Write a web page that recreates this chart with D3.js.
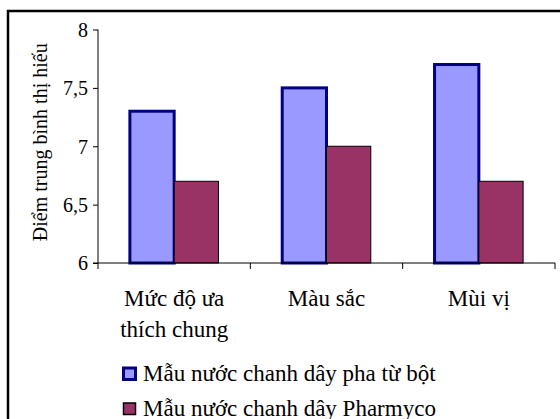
<!DOCTYPE html>
<html>
<head>
<meta charset="utf-8">
<script src="https://cdn.jsdelivr.net/npm/d3@7"></script>
<style>
  html, body { margin: 0; padding: 0; background: #fff; }
  svg { display: block; }
  svg text { font-family: "Liberation Serif", "Times New Roman", serif; }
</style>
</head>
<body>
<svg id="chart" width="560" height="419"></svg>
<script>
// Sensory scores for two passion-fruit drink samples
const categories = [["Mức độ ưa", "thích chung"], ["Màu sắc"], ["Mùi vị"]];
const seriesNames = ["Mẫu nước chanh dây pha từ bột", "Mẫu nước chanh dây Pharmyco"];
const powderValues = [7.3, 7.5, 7.7];
const pharmycoValues = [6.7, 7.0, 6.7];
const yTicks = [6, 6.5, 7, 7.5, 8];

const fills = ["#9999FF", "#993366"];
const strokes = ["#000080", "#000000"];
const strokeWidths = [3, 1];

const FONT = "Liberation Serif";
const axisFont = 20;
const labelFont = 23;

const svg = d3.select("#chart");

// chart-area frame
svg.append("rect")
  .attr("x", 8).attr("y", 11)
  .attr("width", 570).attr("height", 430)
  .attr("fill", "#fff").attr("stroke", "#000").attr("stroke-width", 2.5);

const plot = { left: 98, right: 555, top: 29.5, bottom: 263 };
const catKeys = categories.map(c => c.join(" "));

const x = d3.scaleBand().domain(catKeys).range([plot.left, plot.right]).paddingInner(0).paddingOuter(0);
const xSub = d3.scaleBand().domain([0, 1]).range([0, x.bandwidth()]).paddingInner(0).paddingOuter(0.72);
const y = d3.scaleLinear().domain([6, 8]).range([plot.bottom, plot.top]);

const series = [powderValues, pharmycoValues];

// bars
series.forEach((vals, si) => {
  svg.append("g").selectAll("rect")
    .data(vals)
    .join("rect")
    .attr("x", (d, i) => x(catKeys[i]) + xSub(si))
    .attr("y", d => y(d))
    .attr("width", xSub.bandwidth())
    .attr("height", d => y(6) - y(d))
    .attr("fill", fills[si])
    .attr("stroke", strokes[si])
    .attr("stroke-width", strokeWidths[si]);
});

// y axis
const yAxis = svg.append("g")
  .attr("transform", `translate(${plot.left},0)`)
  .call(d3.axisLeft(y).tickValues(yTicks).tickSize(5).tickPadding(5)
    .tickFormat(d => String(d).replace(".", ",")));
yAxis.attr("font-family", FONT).attr("font-size", axisFont);
yAxis.select(".domain").attr("stroke", "#000").attr("d", `M0,${plot.top}V${plot.bottom}`);
yAxis.selectAll(".tick line").attr("stroke", "#000");
yAxis.selectAll("text").attr("fill", "#000").attr("dy", "0.34em");

// x axis: baseline plus ticks at category boundaries
const xAxis = svg.append("g").attr("transform", `translate(0,${plot.bottom})`);
xAxis.append("line")
  .attr("x1", plot.left - 5).attr("x2", plot.right)
  .attr("stroke", "#000");
const boundaries = catKeys.map(k => x(k)).concat([x(catKeys[catKeys.length - 1]) + x.bandwidth()]);
xAxis.selectAll("line.tk").data(boundaries).join("line")
  .attr("class", "tk")
  .attr("x1", d => d).attr("x2", d => d)
  .attr("y1", 0).attr("y2", 6)
  .attr("stroke", "#000");

// category labels
categories.forEach((lines, i) => {
  const t = svg.append("text")
    .attr("text-anchor", "middle")
    .attr("font-family", FONT)
    .attr("font-size", labelFont)
    .attr("fill", "#000");
  lines.forEach((ln, j) => {
    t.append("tspan")
      .attr("x", x(catKeys[i]) + x.bandwidth() / 2)
      .attr("y", 306 + j * 31)
      .text(ln);
  });
});

// y axis title
svg.append("text")
  .attr("transform", `translate(47,${(plot.top + plot.bottom) / 2 - 4}) rotate(-90)`)
  .attr("text-anchor", "middle")
  .attr("font-family", FONT)
  .attr("font-size", axisFont)
  .attr("fill", "#000")
  .text("Điểm trung bình thị hiếu");

// legend
const legend = svg.append("g");
seriesNames.forEach((name, i) => {
  const gy = 368 + i * 35;
  legend.append("rect")
    .attr("x", 123.5).attr("y", gy)
    .attr("width", 12).attr("height", 11.5)
    .attr("fill", fills[i])
    .attr("stroke", strokes[i])
    .attr("stroke-width", i === 0 ? 3 : 1.5);
  legend.append("text")
    .attr("x", 143).attr("y", gy + 12.5)
    .attr("font-family", FONT)
    .attr("font-size", labelFont)
    .attr("fill", "#000")
    .text(name);
});
</script>
</body>
</html>
